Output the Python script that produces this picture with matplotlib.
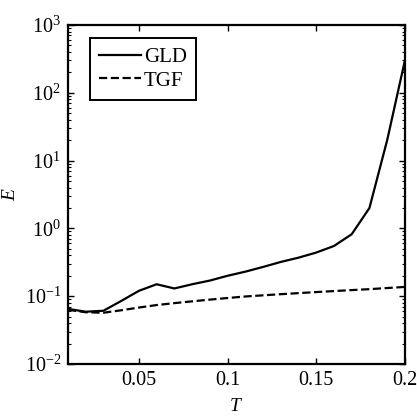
import matplotlib
matplotlib.use("Agg")
import matplotlib.pyplot as plt
from matplotlib.ticker import LogLocator, NullFormatter

plt.rcParams['font.family'] = ['Liberation Serif', 'DejaVu Serif']
plt.rcParams['mathtext.fontset'] = 'custom'
plt.rcParams['mathtext.rm'] = 'Liberation Serif'
plt.rcParams['mathtext.it'] = 'Liberation Serif:italic'

# datos
T = [0.01, 0.02, 0.03, 0.04, 0.05, 0.06, 0.07, 0.08, 0.09, 0.10,
     0.11, 0.12, 0.13, 0.14, 0.15, 0.16, 0.17, 0.18, 0.19, 0.20]
gld = [0.065, 0.059, 0.061, 0.085, 0.12, 0.15, 0.13, 0.15, 0.17, 0.20,
       0.23, 0.27, 0.32, 0.37, 0.44, 0.55, 0.82, 2.0, 20.0, 300.0]
tgf = [0.063, 0.058, 0.057, 0.062, 0.068, 0.074, 0.079, 0.084, 0.089, 0.094,
       0.099, 0.103, 0.107, 0.111, 0.115, 0.119, 0.123, 0.127, 0.132, 0.137]

xticks = [0.05, 0.1, 0.15, 0.2]
xlabels = ['0.05', '0.1', '0.15', '0.2']

fig = plt.figure(figsize=(4.17, 4.16), dpi=100)
ax = fig.add_axes([0.163, 0.125, 0.808, 0.815])

ax.semilogy(T, gld, 'k-', lw=1.6, label='GLD')
ax.semilogy(T, tgf, 'k--', lw=1.6, label='TGF')

ax.set_xlim(0.01, 0.2)
ax.set_ylim(1e-2, 1e3)
ax.set_xticks(xticks)
ax.set_xticklabels(xlabels)
ax.yaxis.set_major_locator(LogLocator(base=10, numticks=10))
ax.yaxis.set_minor_locator(LogLocator(base=10, subs=range(2, 10), numticks=20))
ax.yaxis.set_minor_formatter(NullFormatter())

ax.tick_params(which='both', direction='in', top=True, right=True, labelsize=14.5)
ax.tick_params(which='major', length=4, width=1, pad=5)
ax.tick_params(which='minor', length=2, width=0.8)
for s in ax.spines.values():
    s.set_linewidth(1.6)

ax.set_xlabel('$T$', fontsize=14, labelpad=6)
ax.set_ylabel('$E$', fontsize=14)

leg = ax.legend(loc='upper left', bbox_to_anchor=(0.065, 0.962), fontsize=15,
                fancybox=False, framealpha=1, edgecolor='k', handlelength=2.0,
                borderpad=0.45, labelspacing=0.2, handletextpad=0.15,
                borderaxespad=0)
leg.get_frame().set_linewidth(1.4)

fig.savefig('out.png', dpi=100)
